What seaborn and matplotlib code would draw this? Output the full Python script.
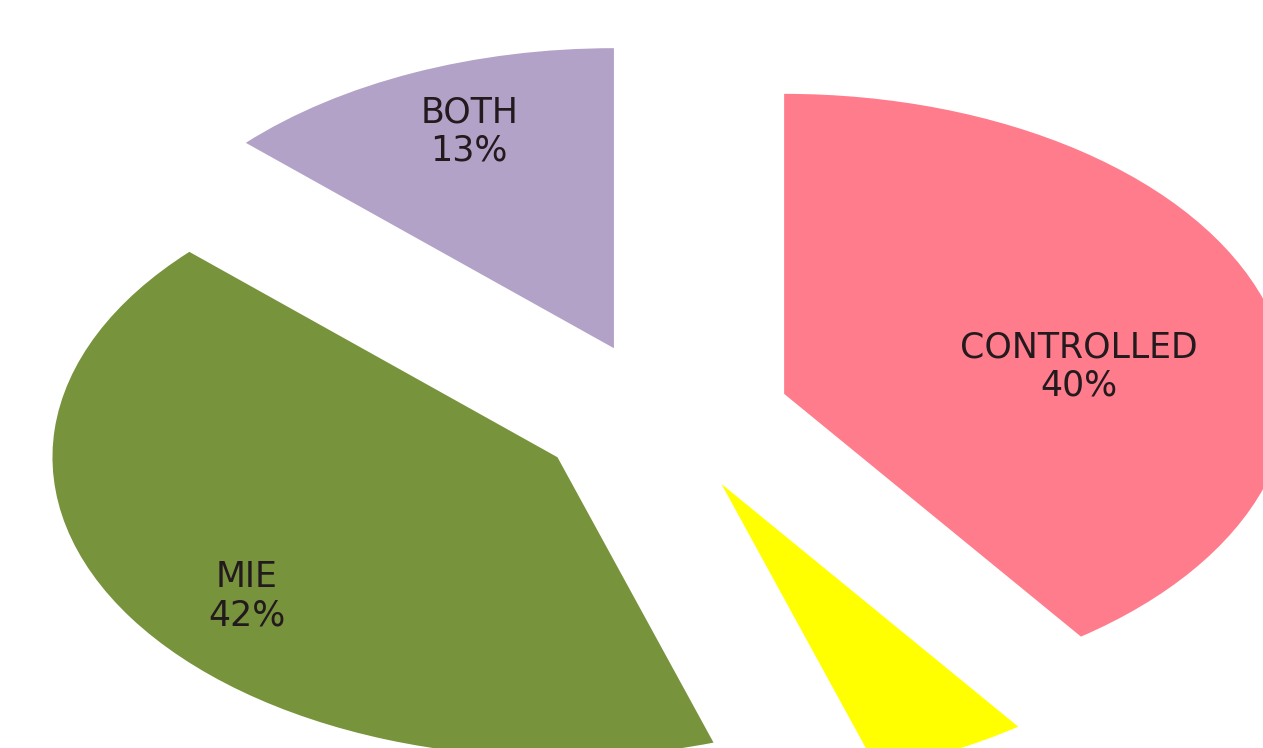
import matplotlib
matplotlib.use("Agg")
import matplotlib.pyplot as plt
import seaborn as sns

# Share of cases by control status
categories = ["CONTROLLED", "OTHER", "MIE", "BOTH"]
shares = [40, 5, 42, 13]
show_label = [True, False, True, True]
slice_colors = ["#FF7C8C", "#FFFF00", "#77933C", "#B2A2C7"]

sns.set_theme(style="white")
plt.rcParams["font.family"] = ["DejaVu Sans"]

fig = plt.figure(figsize=(12.63, 7.48), dpi=100)
ax = fig.add_axes([0, 0, 1, 1])

labels = [f"{c}\n{s}%" if show else "" for c, s, show in zip(categories, shares, show_label)]

wedges, texts = ax.pie(
    shares,
    labels=labels,
    colors=slice_colors,
    startangle=90,
    counterclock=False,
    explode=[0.25] * len(shares),
    radius=1.0,
    wedgeprops=dict(edgecolor="none", linewidth=0),
    textprops=dict(fontsize=25, color="#231a1e", ha="center", va="center",
                   linespacing=1.15),
    labeldistance=0.6,
)

# Label anchors inside each slice (data coordinates)
label_anchor = [(0.822, 0.167), None, (-0.826, -0.597), (-0.386, 0.953)]
for t, pos in zip(texts, label_anchor):
    if pos is not None:
        t.set_position(pos)
        t.set_ha("center")
        t.set_va("center")
        t.set_multialignment("center")

# Horizontally stretched pie, cropped at the lower and right edges
ax.set_aspect("auto")
ax.set_xlim(-1.315, 1.186)
ax.set_ylim(-1.103, 1.39)
ax.axis("off")

fig.savefig("out.png", dpi=100, facecolor="white")
